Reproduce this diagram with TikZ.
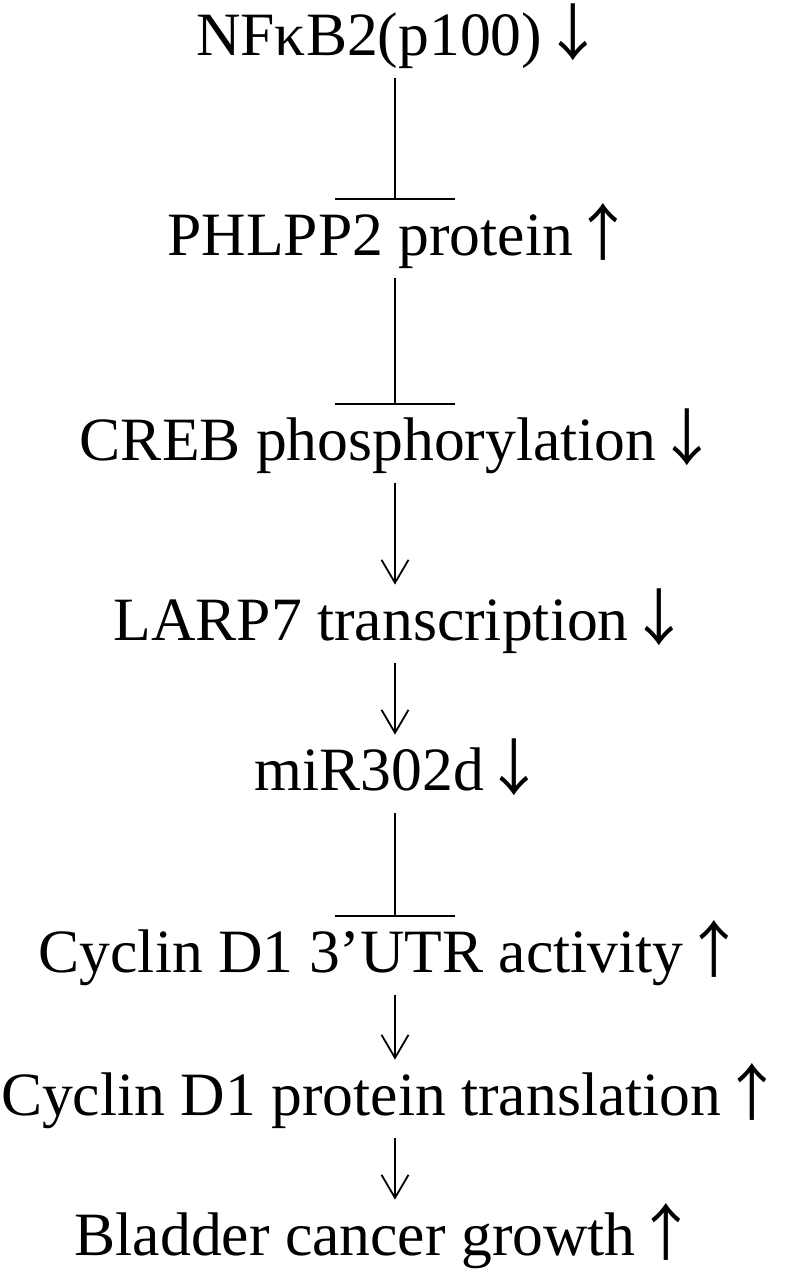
\documentclass[tikz,border=0pt]{standalone}
\usepackage{fontspec}
\setmainfont{Liberation Serif}
\newfontfamily\arrowfont{Noto Sans CJK SC}
\usetikzlibrary{arrows.meta}
\newcommand{\dn}{{\arrowfont ↓}}
\newcommand{\up}{{\arrowfont ↑}}
\begin{document}
\begin{tikzpicture}[
        x=0.5pt, y=-0.5pt,
        every node/.style={font=\fontsize{30.8}{38}\selectfont, inner sep=0pt, anchor=base,
            text height=21pt, text depth=7pt},
        inhib/.style={line width=1pt, shorten <=4.5pt, shorten >=6.5pt,
            -{Bar[width=60pt, line width=1pt]}},
        promote/.style={line width=0.9pt, shorten <=4.5pt, shorten >=6.5pt,
            -{Straight Barb[length=11.5pt, width=13.5pt, line width=0.9pt]}},
    ]
    \useasboundingbox (0,0) rectangle (784,1270);
    \coordinate (spine) at (395,0);
    \node (nfkb)  at (400,55)   {NFκB2(p100)\dn};
    \node (phlpp) at (401,255)  {PHLPP2 protein\up};
    \node (creb)  at (399,460)  {CREB phosphorylation\dn};
    \node (larp)  at (402,640)  {LARP7 transcription\dn};
    \node (mir)   at (400,790)  {miR302d\dn};
    \node (utr)   at (392,972)  {Cyclin D1 3’UTR activity\up};
    \node (trl)   at (392,1115) {Cyclin D1 protein translation\up};
    \node (bld)   at (386,1255) {Bladder cancer growth\up};

    \draw[inhib]   (nfkb.south -| spine)  -- (phlpp.north -| spine);
    \draw[inhib]   (phlpp.south -| spine) -- (creb.north -| spine);
    \draw[promote] (creb.south -| spine)  -- (larp.north -| spine);
    \draw[promote] (larp.south -| spine)  -- (mir.north -| spine);
    \draw[inhib]   (mir.south -| spine)   -- (utr.north -| spine);
    \draw[promote] (utr.south -| spine)   -- (trl.north -| spine);
    \draw[promote] (trl.south -| spine)   -- (bld.north -| spine);
\end{tikzpicture}
\end{document}
